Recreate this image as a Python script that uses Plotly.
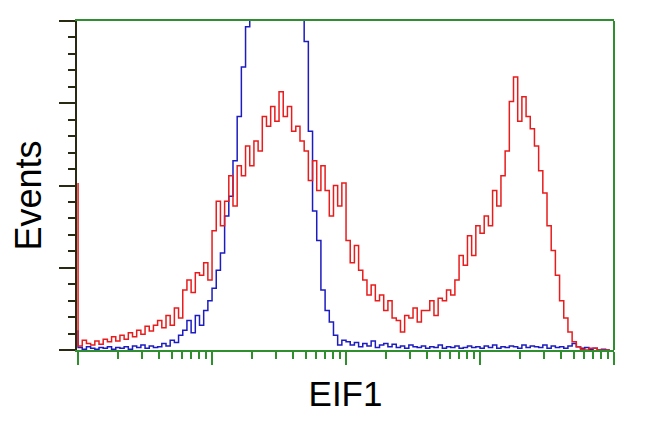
import numpy as np
import plotly.graph_objects as go

# Histogram channels: 128 log-spaced bins over 4 decades
n_bins = 128
decades = 4
channel_log = np.arange(n_bins) * decades / n_bins
channel = 10 ** channel_log

# Red: EIF1-stained cells (events per channel)
red_counts = [
    203, 5, 12, 8, 6, 11, 7, 13, 10, 16,
    11, 18, 13, 21, 16, 24, 19, 29, 23, 30,
    36, 27, 42, 30, 51, 39, 73, 85, 70, 94,
    91, 106, 85, 145, 181, 151, 181, 212, 175, 224,
    212, 248, 224, 254, 242, 284, 272, 296, 278, 314,
    284, 296, 266, 272, 254, 242, 206, 230, 194, 224,
    194, 163, 200, 175, 203, 133, 106, 127, 97, 85,
    67, 79, 60, 67, 48, 60, 39, 36, 22, 42,
    39, 51, 34, 48, 48, 60, 42, 63, 60, 73,
    67, 85, 115, 103, 139, 115, 151, 142, 163, 151,
    194, 175, 212, 242, 302, 332, 278, 308, 284, 269,
    248, 218, 191, 151, 121, 91, 60, 39, 22, 10,
    4, 1, 0, 2, 2, 0, 0, 0,
]

# Blue: negative control (events per channel)
blue_counts = [
    24, 3, 1, 4, 2, 1, 3, 2, 4, 1,
    3, 2, 4, 1, 5, 3, 6, 2, 5, 3,
    4, 8, 5, 12, 9, 18, 24, 36, 21, 42,
    30, 48, 60, 75, 97, 118, 163, 187, 230, 284,
    344, 393, 425, 450, 470, 490, 505, 515, 520, 518,
    510, 495, 475, 455, 432, 375, 266, 169, 133, 73,
    48, 34, 18, 6, 12, 10, 6, 9, 4, 8,
    5, 11, 3, 6, 8, 4, 7, 3, 5, 2,
    6, 4, 3, 5, 2, 4, 3, 6, 2, 4,
    3, 5, 2, 3, 5, 3, 4, 2, 5, 3,
    6, 2, 4, 3, 5, 4, 2, 6, 3, 5,
    4, 3, 6, 2, 5, 3, 4, 2, 5, 8,
    4, 2, 3, 1, 2, 0, 1, 0,
]

assert len(red_counts) == n_bins, len(red_counts)
assert len(blue_counts) == n_bins, len(blue_counts)

x_title = "EIF1"
y_title = "Events"

GREEN = "#2f8f2f"
DARK = "#2a2a12"
RED = "#e81c1c"
BLUE = "#1c1cc0"
FONT = "Liberation Sans, Arial, sans-serif"

fig = go.Figure()
fig.add_trace(go.Scatter(x=channel, y=blue_counts, mode="lines",
                         line=dict(color=BLUE, width=1.5, shape="vh"),
                         showlegend=False, hoverinfo="skip"))
fig.add_trace(go.Scatter(x=channel, y=red_counts, mode="lines",
                         line=dict(color=RED, width=1.5, shape="vh"),
                         showlegend=False, hoverinfo="skip"))

major_x = [10 ** e for e in range(decades + 1)]
minor_x = [k * 10 ** e for e in range(decades) for k in range(2, 10)]

fig.update_xaxes(
    type="log", range=[-0.008, decades],
    showgrid=False, zeroline=False,
    showline=True, linecolor=GREEN, linewidth=2, mirror=True,
    tickmode="array", tickvals=major_x, showticklabels=False,
    ticks="outside", ticklen=13, tickwidth=2, tickcolor=GREEN,
    minor=dict(tickmode="array", tickvals=minor_x, ticks="outside",
               ticklen=7, tickwidth=2, tickcolor=GREEN, showgrid=False),
    title=dict(text=x_title, font=dict(family=FONT, size=35, color="black"),
               standoff=17),
)
fig.update_yaxes(
    range=[0, 400],
    showgrid=False, zeroline=False,
    showline=True, linecolor=DARK, linewidth=2, layer="below traces",
    tickmode="linear", tick0=0, dtick=100, showticklabels=False,
    ticks="outside", ticklen=16, tickwidth=2, tickcolor=DARK,
    minor=dict(tickmode="linear", tick0=0, dtick=20, ticks="outside",
               ticklen=7, tickwidth=2, tickcolor=DARK, showgrid=False),
)

fig.add_annotation(text=y_title, textangle=-90, showarrow=False,
                   xref="paper", yref="paper", x=-0.091, y=0.47,
                   xanchor="center", yanchor="middle",
                   font=dict(family=FONT, size=36, color="black"))

fig.add_shape(type="line", xref="paper", yref="paper", x0=1, x1=1, y0=0, y1=1,
              line=dict(color=GREEN, width=2))

fig.update_layout(
    width=642, height=424,
    margin=dict(l=69, r=36, t=11, b=82),
    paper_bgcolor="white", plot_bgcolor="white",
)

fig.write_html("out.html")
